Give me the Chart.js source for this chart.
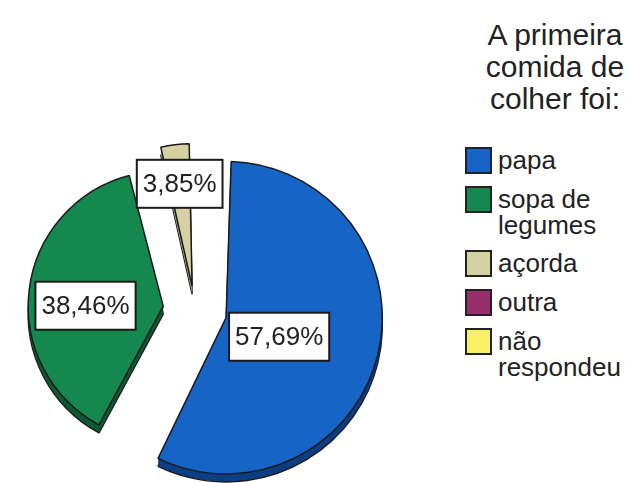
<!DOCTYPE html>
<html>
<head>
<meta charset="utf-8">
<script src="https://cdn.jsdelivr.net/npm/chart.js@4.4.1/dist/chart.umd.min.js"></script>
<style>
html, body { margin: 0; padding: 0; background: #fff; }
body { width: 630px; height: 483px; overflow: hidden; position: relative;
       font-family: "Liberation Sans", Arial, sans-serif; color: #222; }
#pieBox { position: absolute; left: 6px; top: 121px; width: 378px; height: 378px; }
#title { position: absolute; left: 480px; width: 150px; top: 19px; text-align: center;
         font-size: 30px; line-height: 32px; }
#legend { position: absolute; left: 465px; top: 147px; }
.item { display: flex; align-items: flex-start; margin-bottom: 12px; font-size: 26px; line-height: 26px; }
.sw { width: 23px; height: 23px; border: 2px solid #222; margin-right: 6px; flex: none; }
.txt { width: 130px; }
</style>
</head>
<body>
<div id="pieBox"><canvas id="pieChart" width="378" height="378"></canvas></div>
<div id="title">A primeira comida de colher foi:</div>
<div id="legend"></div>
<script>
// data
var categories = ['papa', 'sopa de legumes', 'açorda', 'outra', 'não respondeu'];
var values = [57.69, 38.46, 3.85, 0, 0];

var colors = ['#1664c6', '#15884f', '#d5d1a3', '#982e6e', '#f8f163'];
var sideColors = ['#0c3f86', '#0b5a33', '#9a9670', '#5e1c44', '#aaa440'];

// 3d side of the slices
var depthPlugin = {
    id: 'depth',
    beforeDatasetsDraw: function (chart, args, opts) {
        var ctx = chart.ctx;
        var meta = chart.getDatasetMeta(0);
        for (var t = opts.depth; t >= 1; t--) {
            ctx.save();
            ctx.translate(0, t);
            meta.data.forEach(function (arc, i) {
                if (!values[i]) return;
                var ghost = Object.create(arc);
                ghost.options = Object.assign({}, arc.options, {
                    backgroundColor: sideColors[i],
                    borderColor: '#1a1a1a',
                    borderWidth: t === opts.depth ? 1.5 : 0
                });
                arc.draw.call(ghost, ctx);
            });
            ctx.restore();
        }
    }
};

// white boxes with the percentages
var labelPlugin = {
    id: 'boxLabels',
    afterDatasetsDraw: function (chart, args, opts) {
        var ctx = chart.ctx;
        chart.getDatasetMeta(0).data.forEach(function (arc, i) {
            if (!values[i]) return;
            var p = arc.getProps(['x', 'y', 'startAngle', 'endAngle', 'outerRadius']);
            var mid = (p.startAngle + p.endAngle) / 2;
            var r = arc.options.offset / 4 + p.outerRadius * opts.radial[i];
            var x = p.x + Math.cos(mid) * r;
            var y = p.y + Math.sin(mid) * r + opts.dy[i];
            var text = values[i].toFixed(2).replace('.', ',') + '%';
            ctx.save();
            ctx.font = opts.font;
            var w = ctx.measureText(text).width + 12;
            var h = 48;
            ctx.fillStyle = '#fff';
            ctx.fillRect(x - w / 2, y - h / 2, w, h);
            ctx.lineWidth = 2;
            ctx.strokeStyle = '#1a1a1a';
            ctx.strokeRect(x - w / 2, y - h / 2, w, h);
            ctx.fillStyle = '#222';
            ctx.textAlign = 'center';
            ctx.textBaseline = 'middle';
            ctx.fillText(text, x, y + 1);
            ctx.restore();
        });
    }
};

var chart = new Chart(document.getElementById('pieChart'), {
    type: 'pie',
    data: {
        labels: categories,
        datasets: [{
            data: values,
            backgroundColor: colors,
            borderColor: '#1a1a1a',
            borderWidth: [1.5, 1.5, 1.5, 0, 0],
            offset: [128, 128, 96, 0, 0]
        }]
    },
    options: {
        responsive: false,
        animation: false,
        layout: { padding: 0 },
        plugins: {
            legend: { display: false },
            tooltip: { enabled: false },
            depth: { depth: 8 },
            boxLabels: {
                font: '26px "Liberation Sans", Arial, sans-serif',
                radial: [0.44, 0.63, 0.83],
                dy: [6, 9, 0]
            }
        }
    },
    plugins: [depthPlugin, labelPlugin]
});

// legend built from the chart's labels
var legend = document.getElementById('legend');
categories.forEach(function (name, i) {
    var item = document.createElement('div');
    item.className = 'item';
    item.innerHTML = '<div class="sw" style="background:' + colors[i] + '"></div><div class="txt">' + name + '</div>';
    legend.appendChild(item);
});
</script>
</body>
</html>
